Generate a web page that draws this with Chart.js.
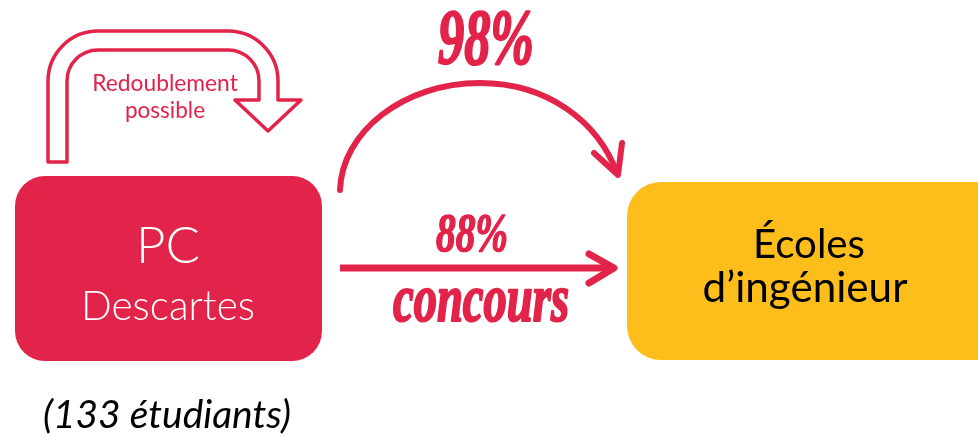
<!DOCTYPE html>
<html lang="fr">
<head>
<meta charset="utf-8">
<title>PC Descartes</title>
<script src="https://cdn.jsdelivr.net/npm/chart.js@4.4.1/dist/chart.umd.min.js"></script>
<style>
  html, body { margin: 0; padding: 0; background: #fff; }
  #schema { display: block; }
</style>
</head>
<body>
<canvas id="schema" width="978" height="440"></canvas>
<script>
// Data
const nodeNames = [['PC', 'Descartes'], ['Écoles', 'd’ingénieur']];
const flowRates = [98, 88];            // % admis : total, par concours
const flowNotes = ['', 'concours'];
const cohortSize = 133;
const loopNote = ['Redoublement', 'possible'];

const RED = '#E2234A';
const YELLOW = '#FDBD1A';
const SCRIPT = '"Liberation Serif"';
const SANS = 'Lato, "Open Sans", sans-serif';

// layout of the diagram, in the x/y units of the (hidden) scales
const layout = {
    boxes: [
        { x0: 15, x1: 322, y0: 176, y1: 361, r: 30, fill: RED },
        { x0: 627, x1: 1010, y0: 182, y1: 360, r: 34, fill: YELLOW }
    ]
};

const diagramPlugin = {
    id: 'diagram',
    afterDraw(chart) {
        const ctx = chart.ctx;
        const sx = chart.scales.x, sy = chart.scales.y;
        const X = v => sx.getPixelForValue(v);
        const Y = v => sy.getPixelForValue(v);
        const R = v => Math.abs(X(v) - X(0));

        // fit text into a width, centred on cx, at baseline by
        // stretch = vertical scale, heavy = extra stroke width
        function fitText(str, cx, by, font, size, width, color, stretch, heavy) {
            ctx.font = font.replace('{s}', size + 'px');
            const w = ctx.measureText(str).width;
            if (width && w > 0) {
                size = size * width / w;
                ctx.font = font.replace('{s}', size.toFixed(1) + 'px');
            }
            ctx.save();
            ctx.translate(X(cx), Y(by));
            ctx.scale(1, stretch || 1);
            ctx.fillStyle = color;
            ctx.textAlign = 'center';
            ctx.textBaseline = 'alphabetic';
            ctx.fillText(str, 0, 0);
            if (heavy) {
                ctx.lineWidth = heavy;
                ctx.lineJoin = 'round';
                ctx.strokeStyle = color;
                ctx.strokeText(str, 0, 0);
            }
            ctx.restore();
        }

        function roundBox(b) {
            ctx.beginPath();
            ctx.roundRect(X(b.x0), Y(b.y0), X(b.x1) - X(b.x0), Y(b.y1) - Y(b.y0), R(b.r));
            ctx.fillStyle = b.fill;
            ctx.fill();
        }

        ctx.save();

        // boxes
        layout.boxes.forEach(roundBox);

        // box texts
        fitText(nodeNames[0][0], 168, 263, '300 {s} ' + SANS, 58, 64, '#fff');
        fitText(nodeNames[0][1], 168, 320, '300 {s} ' + SANS, 34, 174, '#fff');
        fitText(nodeNames[1][0], 809, 258, '400 {s} ' + SANS, 34, 112, '#000');
        fitText(nodeNames[1][1], 805, 302, '400 {s} ' + SANS, 34, 205, '#000');

        // cohort size
        fitText('(' + cohortSize + ' étudiants)', 167, 428, 'italic 400 {s} ' + SANS, 28, 248, '#000');

        // loop arrow (redoublement) - hollow outline
        ctx.beginPath();
        ctx.moveTo(X(48), Y(162));
        ctx.lineTo(X(48), Y(81));
        ctx.arc(X(98), Y(81), R(50), Math.PI, 1.5 * Math.PI);
        ctx.lineTo(X(228), Y(31));
        ctx.arc(X(228), Y(81), R(50), 1.5 * Math.PI, 2 * Math.PI);
        ctx.lineTo(X(278), Y(100));
        ctx.lineTo(X(301), Y(100));
        ctx.lineTo(X(268), Y(131));
        ctx.lineTo(X(235), Y(100));
        ctx.lineTo(X(259), Y(100));
        ctx.lineTo(X(259), Y(81));
        ctx.arc(X(228), Y(81), R(31), 2 * Math.PI, 1.5 * Math.PI, true);
        ctx.lineTo(X(98), Y(50));
        ctx.arc(X(98), Y(81), R(31), 1.5 * Math.PI, Math.PI, true);
        ctx.lineTo(X(67), Y(162));
        ctx.closePath();
        ctx.fillStyle = '#fff';
        ctx.fill();
        ctx.lineWidth = 3.5;
        ctx.lineJoin = 'round';
        ctx.strokeStyle = RED;
        ctx.stroke();

        fitText(loopNote[0], 165, 91, '400 {s} ' + SANS, 20, 146, RED);
        fitText(loopNote[1], 165, 118, '400 {s} ' + SANS, 20, 80, RED);

        // curved arrow (98%)
        ctx.strokeStyle = RED;
        ctx.lineCap = 'round';
        ctx.lineJoin = 'round';
        ctx.lineWidth = 6;
        ctx.beginPath();
        ctx.moveTo(X(340), Y(190));
        ctx.bezierCurveTo(X(342), Y(132), X(403), Y(83), X(480), Y(83));
        ctx.bezierCurveTo(X(548), Y(83), X(598), Y(122), X(617), Y(173));
        ctx.stroke();
        ctx.beginPath();
        ctx.moveTo(X(622), Y(143));
        ctx.lineTo(X(618), Y(175));
        ctx.lineTo(X(594), Y(153));
        ctx.stroke();
        fitText(flowRates[0] + '%', 486, 63, 'italic bold {s} ' + SCRIPT, 54, 96, RED, 1.5, 1.5);

        // straight arrow (88% concours)
        ctx.lineWidth = 7;
        ctx.lineCap = 'butt';
        ctx.beginPath();
        ctx.moveTo(X(340), Y(268));
        ctx.lineTo(X(612), Y(268));
        ctx.stroke();
        ctx.lineCap = 'round';
        ctx.beginPath();
        ctx.moveTo(X(589), Y(254));
        ctx.lineTo(X(614), Y(268));
        ctx.lineTo(X(589), Y(283));
        ctx.stroke();
        fitText(flowRates[1] + '%', 472, 251, 'italic bold {s} ' + SCRIPT, 40, 72, RED, 1.4, 1.2);
        fitText(flowNotes[1], 481, 321, 'italic bold {s} ' + SCRIPT, 48, 176, RED, 1.45, 1.5);

        ctx.restore();
    }
};

new Chart(document.getElementById('schema'), {
    type: 'scatter',
    data: { datasets: [] },
    options: {
        responsive: false,
        animation: false,
        layout: { padding: 0 },
        plugins: { legend: { display: false }, tooltip: { enabled: false } },
        scales: {
            x: { type: 'linear', min: 0, max: 978, display: false },
            y: { type: 'linear', min: 0, max: 440, reverse: true, display: false }
        }
    },
    plugins: [diagramPlugin]
});
</script>
</body>
</html>
